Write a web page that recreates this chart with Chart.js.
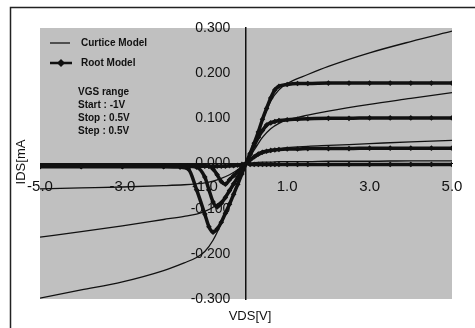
<!DOCTYPE html>
<html><head><meta charset="utf-8">
<script src="https://cdn.jsdelivr.net/npm/chart.js@4/dist/chart.umd.min.js"></script>
<style>html,body{margin:0;padding:0;background:#fff;}#wrap{position:relative;width:475px;height:328px;}</style>
</head><body><div id="wrap"><canvas id="c" width="475" height="328"></canvas></div>
<script>
// VDS sample points (V)
const vdsCurtice = [-5,-4,-3,-2,-1.5,-1.2,-1,-0.8,-0.6,-0.4,-0.2,0,0.2,0.4,0.6,0.8,1,1.5,2,3,4,5];
// Curtice model IDS (mA) per VGS
const curticeVgsM1  = [-0.008,-0.007,-0.007,-0.006,-0.006,-0.005,-0.005,-0.004,-0.004,-0.003,-0.002,0,0.002,0.003,0.003,0.004,0.004,0.004,0.005,0.005,0.006,0.006];
const curticeVgsM05 = [-0.056,-0.054,-0.052,-0.049,-0.047,-0.045,-0.043,-0.039,-0.033,-0.025,-0.014,0,0.012,0.022,0.028,0.032,0.035,0.038,0.040,0.044,0.048,0.051];
const curticeVgs0   = [-0.163,-0.151,-0.138,-0.124,-0.117,-0.112,-0.106,-0.097,-0.083,-0.063,-0.033,0,0.030,0.058,0.077,0.089,0.096,0.107,0.116,0.131,0.144,0.157];
const curticeVgs05  = [-0.298,-0.280,-0.262,-0.237,-0.220,-0.208,-0.195,-0.170,-0.133,-0.090,-0.048,0,0.042,0.095,0.138,0.163,0.177,0.197,0.215,0.245,0.270,0.293];

const vdsRoot = [-5,-4,-3,-2,-1.6,-1.4,-1.2,-1.0,-0.9,-0.8,-0.7,-0.6,-0.5,-0.4,-0.3,-0.2,-0.1,0,0.1,0.2,0.3,0.4,0.5,0.6,0.7,0.8,1.0,1.25,1.5,2,2.5,3,3.5,4,4.5,5];
// Root model IDS (mA) per VGS
const rootVgsM1  = [-0.006,-0.006,-0.006,-0.006,-0.006,-0.006,-0.006,-0.006,-0.006,-0.006,-0.006,-0.006,-0.006,-0.005,-0.005,-0.004,-0.002,0,-0.002,-0.002,-0.002,-0.002,-0.002,-0.002,-0.002,-0.002,-0.002,-0.002,-0.002,-0.002,-0.002,-0.002,-0.002,-0.002,-0.002,-0.002];
const rootVgsM05 = [-0.005,-0.005,-0.005,-0.005,-0.005,-0.005,-0.005,-0.005,-0.006,-0.012,-0.025,-0.040,-0.046,-0.036,-0.027,-0.018,-0.009,0,0.008,0.015,0.021,0.025,0.027,0.029,0.030,0.031,0.032,0.032,0.033,0.033,0.033,0.034,0.034,0.034,0.034,0.034];
const rootVgs0   = [-0.006,-0.006,-0.006,-0.006,-0.006,-0.006,-0.008,-0.030,-0.058,-0.085,-0.096,-0.088,-0.075,-0.060,-0.045,-0.030,-0.015,0,0.020,0.040,0.058,0.073,0.085,0.090,0.093,0.095,0.097,0.098,0.099,0.100,0.100,0.101,0.101,0.101,0.101,0.101];
const rootVgs05  = [-0.007,-0.007,-0.007,-0.007,-0.008,-0.012,-0.058,-0.112,-0.140,-0.152,-0.145,-0.130,-0.110,-0.090,-0.068,-0.046,-0.023,0,0.022,0.045,0.070,0.098,0.122,0.145,0.163,0.171,0.175,0.177,0.177,0.178,0.178,0.178,0.178,0.178,0.178,0.178];

const xTickValues = [-5,-3,-1,1,3,5];
const yTickValues = [-0.3,-0.2,-0.1,0,0.1,0.2,0.3];
const legendLabels = ['Curtice Model','Root Model'];
const sweepText = ['VGS range','Start : -1V','Stop : 0.5V','Step : 0.5V'];
const xTitle = 'VDS[V]';
const yTitle = 'IDS[mA';

const INK = '#111111';
const FONT = '"Liberation Sans", Arial, sans-serif';
const pts = (xs, ys) => xs.map((x, i) => ({x, y: ys[i]}));
const curtice = ys => ({data: pts(vdsCurtice, ys), borderColor: INK, borderWidth: 1.3, pointRadius: 0, cubicInterpolationMode: 'monotone', fill: false});
const root = ys => ({data: pts(vdsRoot, ys), borderColor: INK, backgroundColor: INK, borderWidth: 3.5, pointRadius: 2.8, pointStyle: 'rectRot', pointBorderWidth: 0, cubicInterpolationMode: 'monotone', fill: false});

const frame = {
  id: 'frame',
  beforeDraw(chart) {
    const {ctx, chartArea: a} = chart;
    ctx.save();
    ctx.fillStyle = '#fff';
    ctx.fillRect(0, 0, chart.width, chart.height);
    ctx.fillStyle = '#c0c0c0';
    ctx.fillRect(a.left, a.top, a.right - a.left, a.bottom - a.top);
    ctx.strokeStyle = '#222';
    ctx.lineWidth = 1.5;
    ctx.beginPath();
    ctx.moveTo(10.5, 328); ctx.lineTo(10.5, 7.5); ctx.lineTo(475, 7.5);
    ctx.stroke();
    ctx.restore();
  },
  afterDraw(chart) {
    const {ctx} = chart;
    ctx.save();
    ctx.fillStyle = INK; ctx.strokeStyle = INK;
    // legend
    ctx.lineWidth = 1.3;
    ctx.beginPath(); ctx.moveTo(50, 43); ctx.lineTo(70, 43); ctx.stroke();
    ctx.lineWidth = 2.5;
    ctx.beginPath(); ctx.moveTo(50, 63); ctx.lineTo(72, 63); ctx.stroke();
    ctx.beginPath(); ctx.moveTo(61, 59); ctx.lineTo(65, 63); ctx.lineTo(61, 67); ctx.lineTo(57, 63); ctx.closePath(); ctx.fill();
    ctx.font = 'bold 10px ' + FONT;
    ctx.textBaseline = 'middle'; ctx.textAlign = 'left';
    ctx.fillText(legendLabels[0], 81, 43);
    ctx.fillText(legendLabels[1], 81, 63);
    sweepText.forEach((t, i) => ctx.fillText(t, 78, 92 + i * 13));
    // axis titles
    ctx.font = '13px ' + FONT;
    ctx.textAlign = 'center';
    ctx.fillText(xTitle, 250, 316);
    ctx.translate(21, 162); ctx.rotate(-Math.PI / 2);
    ctx.fillText(yTitle, 0, 0);
    ctx.restore();
  }
};

const zeroPad = s => { s.paddingLeft = 0; s.paddingRight = 0; s.paddingTop = 0; s.paddingBottom = 0; };
const setYTicks = s => { s.ticks = yTickValues.map(v => ({value: v})); };

new Chart(document.getElementById('c'), {
  type: 'line',
  data: {datasets: [
    curtice(curticeVgsM1), curtice(curticeVgsM05), curtice(curticeVgs0), curtice(curticeVgs05),
    root(rootVgsM1), root(rootVgsM05), root(rootVgs0), root(rootVgs05)
  ]},
  options: {
    responsive: false, animation: false, devicePixelRatio: 1,
    layout: {padding: {left: 40, right: 23, top: 28, bottom: 29}},
    plugins: {legend: {display: false}, tooltip: {enabled: false}},
    scales: {
      x: {
        type: 'linear', min: -5, max: 5, position: {y: 0},
        afterBuildTicks: s => { s.ticks = xTickValues.map(v => ({value: v})); },
        afterFit: zeroPad,
        grid: {display: false, drawTicks: false},
        border: {display: true, color: INK, width: 1},
        ticks: {autoSkip: false, maxRotation: 0, padding: 14, color: INK,
          font: {family: FONT, size: 15},
          callback: v => Number(v).toFixed(1)}
      },
      y: {
        type: 'linear', min: -0.3, max: 0.3, position: {x: 0},
        afterBuildTicks: setYTicks,
        afterFit: zeroPad,
        grid: {display: false, drawTicks: false},
        border: {display: true, color: INK, width: 1.5},
        ticks: {display: false}
      },
      yLabels: {
        type: 'linear', min: -0.3, max: 0.3, position: {x: -0.38},
        afterBuildTicks: setYTicks,
        afterFit: zeroPad,
        grid: {display: false, drawTicks: false},
        border: {display: false},
        ticks: {autoSkip: false, color: INK,
          font: {family: FONT, size: 14},
          callback: v => Number(v).toFixed(3)}
      }
    }
  },
  plugins: [frame]
});
</script></body></html>
